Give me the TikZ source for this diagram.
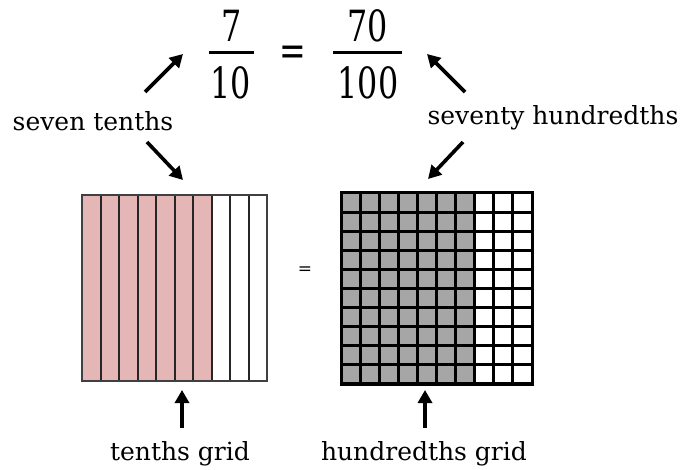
\documentclass[tikz,border=0pt]{standalone}
\usepackage{fontspec}
\setmainfont{DejaVu Serif}
\usetikzlibrary{arrows.meta}
\definecolor{tenthpink}{RGB}{228,182,182}
\definecolor{cellgray}{RGB}{166,166,166}
\tikzset{
  lbl/.style={font=\fontsize{25}{28}\selectfont, inner sep=0pt, anchor=base},
  big/.style={font=\fontsize{43}{46}\selectfont, inner sep=0pt, anchor=base},
  pointer/.style={line width=3.6pt, -{Triangle[length=13pt,width=14pt]}},
}
\newcommand{\narrow}[1]{\scalebox{0.74}[1]{#1}}
\begin{document}
\begin{tikzpicture}[x=1pt,y=-1pt]
    \useasboundingbox (0,0) rectangle (683,470);
    % 分数
    \node[big] (seven) at (232,42) {\narrow{7}};
    \node[big] (ten) at (231,99) {\narrow{10}};
    \node[big] (eq) at (293,66) {\narrow{=}};
    \node[big] (seventy) at (368,42) {\narrow{70}};
    \node[big] (hundred) at (368,99) {\narrow{100}};
    \draw[line width=3pt] (209,53) -- (254,53);
    \draw[line width=3pt] (333,53) -- (402,53);
    % ラベル
    \node[lbl] (sevenTenths) at (93,131) {seven tenths};
    \node[lbl] (seventyHundredths) at (553,125) {seventy hundredths};
    \node[lbl] (tenthsGrid) at (180,460) {tenths grid};
    \node[lbl] (hundredthsGrid) at (424,460) {hundredths grid};
    \node[font=\fontsize{17}{19}\selectfont, inner sep=0pt] (smallEq) at (305,271) {=};
    % 10等分の図
    \fill[tenthpink] (82,195) rectangle (211.5,381);
    \foreach \i in {1,...,9}
        \draw[line width=2pt, black!85] (82+18.5*\i,195) -- (82+18.5*\i,381);
    \draw[line width=2.4pt, black!75] (82,195) rectangle (267,381);
    % 100等分の図
    \fill[cellgray] (341,193) rectangle (474.7,384);
    \foreach \i in {0,...,10} {
        \draw[line width=3pt] (341+19.1*\i,193) -- (341+19.1*\i,384);
        \draw[line width=3pt] (341,193+19.1*\i) -- (532,193+19.1*\i);
    }
    \draw[line width=3pt] (341,193) rectangle (532,384);
    % 矢印の端
    \coordinate (a1) at (145,92);  \coordinate (b1) at (183,54);
    \coordinate (a2) at (465,92);  \coordinate (b2) at (427,54);
    \coordinate (a3) at (147,142); \coordinate (b3) at (183,180);
    \coordinate (a4) at (463,142); \coordinate (b4) at (428,179);
    \coordinate (a5) at (182,428); \coordinate (b5) at (182,390);
    \coordinate (a6) at (425,428); \coordinate (b6) at (425,390);
    \foreach \k in {1,...,6}
        \draw[pointer] (a\k) -- (b\k);
\end{tikzpicture}
\end{document}
